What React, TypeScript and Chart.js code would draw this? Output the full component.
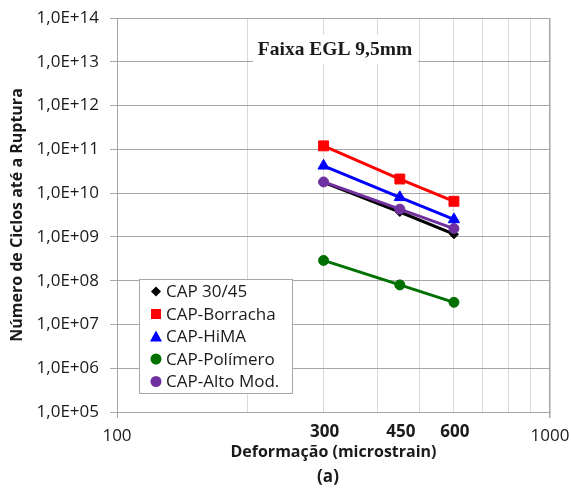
import { useEffect, useRef } from 'react';
import { Chart, registerables } from 'chart.js';

Chart.register(...registerables);

// Strain levels (microstrain) and cycles to failure for each binder
const strains = [300, 450, 600];
const cap3045 = [1.75e10, 3.7e9, 1.15e9];
const capBorracha = [1.2e11, 2.1e10, 6.5e9];
const capHiMA = [4.2e10, 8.0e9, 2.5e9];
const capPolimero = [2.9e8, 8.0e7, 3.2e7];
const capAltoMod = [1.8e10, 4.3e9, 1.55e9];

const seriesNames = ['CAP 30/45', 'CAP-Borracha', 'CAP-HiMA', 'CAP-Polímero', 'CAP-Alto Mod.'];
const seriesColors = ['#000000', '#ff0000', '#0000ff', '#007000', '#7030a0'];

// Axis ticks
const yTickValues = [1e5, 1e6, 1e7, 1e8, 1e9, 1e10, 1e11, 1e12, 1e13, 1e14];
const xGridValues = [100, 200, 300, 400, 500, 600, 700, 800, 900, 1000];
const xTickLabels = [100, 1000];
const highlightedStrains = [300, 450, 600];

const chartTitle = 'Faixa EGL 9,5mm';
const xTitle = 'Deformação (microstrain)';
const yTitle = 'Número de Ciclos até a Ruptura';
const panelTag = '(a)';

const SANS = '"Open Sans", "DejaVu Sans", sans-serif';
const SERIF = '"Liberation Serif", "DejaVu Serif", serif';
const TEXT = '#1a1a1a';
const AXIS = '#a6a6a6';
const HGRID = '#a6a6a6';
const VGRID = '#d9d9d9';

type Marker = 'rectRot' | 'rect' | 'triangle' | 'circle';

function drawMarker(ctx: CanvasRenderingContext2D, kind: Marker, x: number, y: number, color: string) {
  ctx.save();
  ctx.fillStyle = color;
  ctx.beginPath();
  if (kind === 'rectRot') {
    const r = 5;
    ctx.moveTo(x, y - r);
    ctx.lineTo(x + r, y);
    ctx.lineTo(x, y + r);
    ctx.lineTo(x - r, y);
    ctx.closePath();
  } else if (kind === 'rect') {
    ctx.rect(x - 5, y - 5, 10, 10);
  } else if (kind === 'triangle') {
    ctx.moveTo(x, y - 6);
    ctx.lineTo(x + 6, y + 5);
    ctx.lineTo(x - 6, y + 5);
    ctx.closePath();
  } else {
    ctx.arc(x, y, 5.5, 0, Math.PI * 2);
  }
  ctx.fill();
  ctx.restore();
}

const markers: Marker[] = ['rectRot', 'rect', 'triangle', 'circle', 'circle'];

// keep the plot frame fixed: axes reserve no extra room for edge labels
function pinScale(s: any) {
  s.paddingTop = 0;
  s.paddingBottom = 0;
  s.paddingLeft = 0;
  s.paddingRight = 0;
}

const overlayPlugin = {
  id: 'overlayText',
  afterDraw(chart: any) {
    const ctx: CanvasRenderingContext2D = chart.ctx;
    const xs = chart.scales.x;
    const area = chart.chartArea;
    ctx.save();

    // title box inside the plot
    ctx.fillStyle = '#ffffff';
    ctx.fillRect(253, 35, 165, 29);
    ctx.fillStyle = TEXT;
    ctx.font = `bold 19.5px ${SERIF}`;
    ctx.textAlign = 'center';
    ctx.textBaseline = 'middle';
    ctx.fillText(chartTitle, 335, 50);

    // bold strain labels under the axis
    ctx.font = `bold 17px ${SANS}`;
    highlightedStrains.forEach((v) => {
      ctx.fillText(String(v), xs.getPixelForValue(v) + 1, 432);
    });

    // axis titles
    ctx.font = `bold 16px ${SANS}`;
    ctx.fillText(xTitle, (area.left + area.right) / 2, 452);
    ctx.font = `bold 17px ${SANS}`;
    ctx.fillText(panelTag, 328, 477);

    ctx.save();
    ctx.translate(17, (area.top + area.bottom) / 2);
    ctx.rotate(-Math.PI / 2);
    ctx.font = `bold 16px ${SANS}`;
    ctx.fillText(yTitle, 0, 0);
    ctx.restore();

    // legend
    const lx = 139.5, ly = 279.5, lw = 153, lh = 114;
    ctx.fillStyle = '#ffffff';
    ctx.fillRect(lx, ly, lw, lh);
    ctx.strokeStyle = AXIS;
    ctx.lineWidth = 1;
    ctx.strokeRect(lx, ly, lw, lh);
    ctx.font = `17px ${SANS}`;
    ctx.textAlign = 'left';
    seriesNames.forEach((name, i) => {
      const cy = 291.5 + i * 22.5;
      drawMarker(ctx, markers[i], 156, cy, seriesColors[i]);
      ctx.fillStyle = TEXT;
      ctx.fillText(name, 166, cy + 1);
    });

    ctx.restore();
  },
};

export default function App() {
  const ref = useRef<HTMLCanvasElement | null>(null);

  useEffect(() => {
    if (!ref.current) return;
    const seriesValues = [cap3045, capBorracha, capHiMA, capPolimero, capAltoMod];
    const radii = [4.5, 7, 6.5, 5, 5];
    const chart = new Chart(ref.current, {
      type: 'line',
      data: {
        datasets: seriesValues.map((vals, i) => ({
          label: seriesNames[i],
          data: strains.map((s, j) => ({ x: s, y: vals[j] })),
          borderColor: seriesColors[i],
          backgroundColor: seriesColors[i],
          pointBackgroundColor: seriesColors[i],
          pointBorderColor: seriesColors[i],
          pointBorderWidth: 1,
          pointStyle: markers[i],
          pointRadius: radii[i],
          borderWidth: 3,
          tension: 0,
          order: i === 0 ? 1 : 0,
        })),
      },
      options: {
        responsive: false,
        animation: false,
        layout: { autoPadding: false, padding: { top: 18, right: 21, left: 0, bottom: 0 } },
        plugins: {
          legend: { display: false },
          tooltip: { enabled: false },
          title: { display: false },
        },
        scales: {
          x: {
            type: 'logarithmic',
            min: 100,
            max: 1000,
            afterBuildTicks: (s: any) => {
              s.ticks = xGridValues.map((v) => ({ value: v }));
            },
            afterFit: (s: any) => {
              s.height = 76;
              pinScale(s);
            },
            ticks: {
              autoSkip: false,
              maxRotation: 0,
              padding: 8,
              color: TEXT,
              font: { family: SANS, size: 17 },
              callback: (v: any) => (xTickLabels.includes(Number(v)) ? String(v) : ''),
            },
            grid: {
              color: (c: any) => (c.tick && c.tick.value === 1000 ? AXIS : VGRID),
              lineWidth: (c: any) => (c.tick && c.tick.value === 1000 ? 1.5 : 1),
              tickColor: (c: any) => (c.tick && xTickLabels.includes(c.tick.value) ? AXIS : 'rgba(0,0,0,0)'),
              tickLength: 6,
            },
            border: { color: AXIS },
          },
          y: {
            type: 'logarithmic',
            min: 1e5,
            max: 1e14,
            afterBuildTicks: (s: any) => {
              s.ticks = yTickValues.map((v) => ({ value: v }));
            },
            afterFit: (s: any) => {
              s.width = 117;
              pinScale(s);
            },
            ticks: {
              autoSkip: false,
              padding: 11,
              color: TEXT,
              font: { family: SANS, size: 17 },
              callback: (v: any) => {
                const e = Math.round(Math.log10(Number(v)));
                return '1,0E+' + String(e).padStart(2, '0');
              },
            },
            grid: {
              color: HGRID,
              tickColor: AXIS,
              tickLength: 7,
            },
            border: { color: AXIS },
          },
        },
      },
      plugins: [overlayPlugin],
    });
    return () => chart.destroy();
  }, []);

  return (
    <div style={{ position: 'fixed', left: 0, top: 0, width: 571, height: 488, background: '#ffffff' }}>
      <canvas ref={ref} width={571} height={488} style={{ display: 'block' }} />
    </div>
  );
}
